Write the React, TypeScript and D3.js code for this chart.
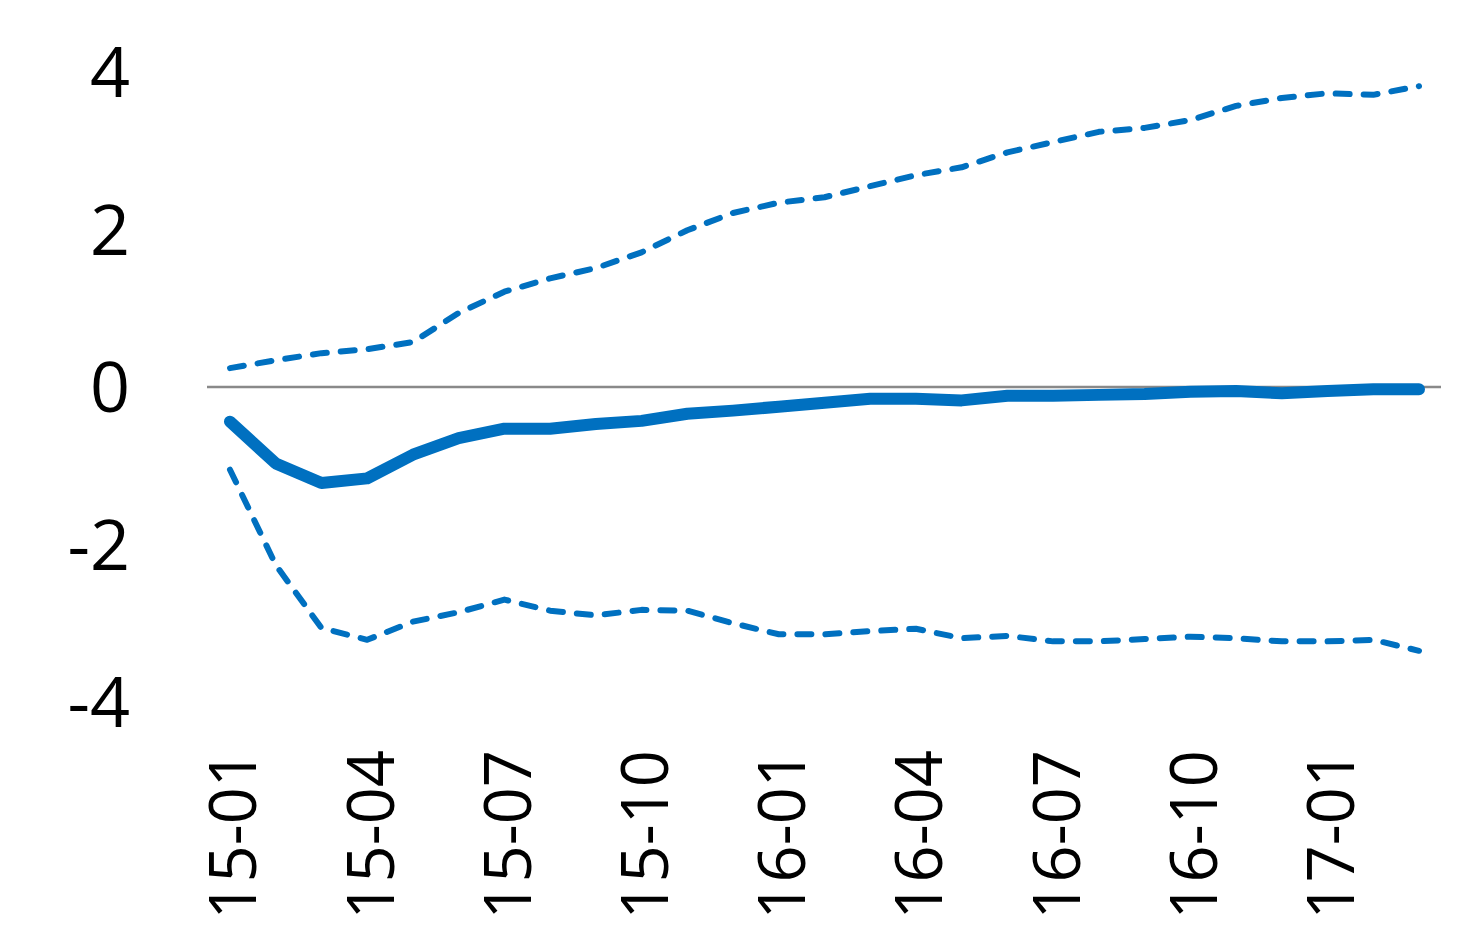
import { useEffect, useRef } from "react";
import * as d3 from "d3";

// monthly, 15-01 .. 17-03
const months = [
  "15-01", "15-02", "15-03", "15-04", "15-05", "15-06", "15-07", "15-08", "15-09",
  "15-10", "15-11", "15-12", "16-01", "16-02", "16-03", "16-04", "16-05", "16-06",
  "16-07", "16-08", "16-09", "16-10", "16-11", "16-12", "17-01", "17-02", "17-03",
];

const central = [
  -0.44, -0.97, -1.22, -1.16, -0.86, -0.65, -0.53, -0.53, -0.47,
  -0.43, -0.34, -0.3, -0.25, -0.2, -0.15, -0.15, -0.17, -0.11,
  -0.11, -0.1, -0.09, -0.06, -0.05, -0.08, -0.05, -0.03, -0.03,
];

const upper = [
  0.24, 0.34, 0.43, 0.48, 0.57, 0.94, 1.21, 1.38, 1.51,
  1.71, 1.99, 2.21, 2.34, 2.41, 2.55, 2.69, 2.79, 2.98,
  3.11, 3.24, 3.29, 3.39, 3.57, 3.67, 3.73, 3.71, 3.82,
];

const lower = [
  -1.05, -2.26, -3.06, -3.21, -2.98, -2.86, -2.7, -2.84, -2.9,
  -2.83, -2.84, -3.0, -3.14, -3.14, -3.1, -3.07, -3.19, -3.16,
  -3.23, -3.23, -3.2, -3.17, -3.19, -3.23, -3.23, -3.21, -3.35,
];

const yTicks = [4, 2, 0, -2, -4];
const xTickLabels = ["15-01", "15-04", "15-07", "15-10", "16-01", "16-04", "16-07", "16-10", "17-01"];

const BLUE = "#0070c0";

export default function App() {
  const svgRef = useRef<SVGSVGElement>(null);

  useEffect(() => {
    const w = 1481;
    const h = 948;
    const svg = d3.select(svgRef.current).attr("width", w).attr("height", h);
    svg.selectAll("*").remove();

    const x = d3.scalePoint<string>().domain(months).range([230, 1419]);
    const y = d3.scaleLinear().domain([-4, 4]).range([702, 72]);

    // zero line
    svg.append("line")
      .attr("x1", 207).attr("x2", 1441)
      .attr("y1", y(0)).attr("y2", y(0))
      .attr("stroke", "#898989").attr("stroke-width", 2.5);

    const line = d3.line<number>()
      .x((d, i) => x(months[i]) as number)
      .y((d) => y(d));

    svg.append("path")
      .attr("d", line(upper))
      .attr("fill", "none").attr("stroke", BLUE)
      .attr("stroke-width", 6).attr("stroke-linecap", "round").attr("stroke-linejoin", "round")
      .attr("stroke-dasharray", "14 14");

    svg.append("path")
      .attr("d", line(lower))
      .attr("fill", "none").attr("stroke", BLUE)
      .attr("stroke-width", 6).attr("stroke-linecap", "round").attr("stroke-linejoin", "round")
      .attr("stroke-dasharray", "14 14");

    svg.append("path")
      .attr("d", line(central))
      .attr("fill", "none").attr("stroke", BLUE)
      .attr("stroke-width", 12).attr("stroke-linecap", "round").attr("stroke-linejoin", "round");

    const font = "'Open Sans', 'Noto Sans', sans-serif";

    // y labels
    svg.append("g").selectAll("text")
      .data(yTicks)
      .join("text")
      .attr("x", 130)
      .attr("y", (d) => y(d))
      .attr("dy", "0.36em")
      .attr("text-anchor", "end")
      .attr("font-family", font)
      .attr("font-size", 70)
      .attr("fill", "#000")
      .text((d) => String(d));

    // x labels, rotated
    svg.append("g").selectAll("text")
      .data(xTickLabels)
      .join("text")
      .attr("transform", (d) => `translate(${(x(d) as number) + 3},${750}) rotate(-90)`)
      .attr("dy", "0.36em")
      .attr("text-anchor", "end")
      .attr("font-family", font)
      .attr("font-size", 65)
      .attr("fill", "#000")
      .text((d) => d);
  }, []);

  return <svg ref={svgRef} style={{ position: "absolute", left: 0, top: 0, background: "#fff" }} />;
}
